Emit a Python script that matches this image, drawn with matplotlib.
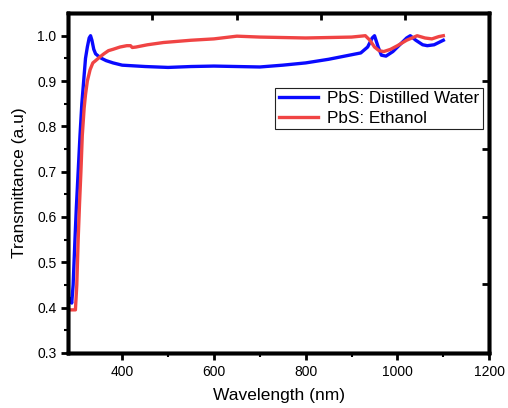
import numpy as np
import matplotlib
matplotlib.use("Agg")
import matplotlib.pyplot as plt

plt.rcParams["font.family"] = ["Liberation Sans", "DejaVu Sans"]

# PbS: Distilled Water
wl_water = [283, 287, 290, 293, 297, 300, 304, 308, 312, 316, 320, 324, 328, 331,
            334, 338, 342, 348, 355, 365, 380, 400, 450, 500, 550, 600, 650, 700,
            750, 800, 850, 900, 920, 935, 945, 950, 958, 965, 975, 990, 1005, 1020,
            1028, 1040, 1055, 1065, 1080, 1090, 1100]
t_water = [0.41, 0.42, 0.41, 0.45, 0.55, 0.62, 0.70, 0.78, 0.85, 0.90, 0.95, 0.975,
           0.995, 1.0, 0.99, 0.97, 0.96, 0.955, 0.95, 0.945, 0.94, 0.935, 0.932,
           0.93, 0.932, 0.933, 0.932, 0.931, 0.935, 0.94, 0.948, 0.958, 0.962, 0.975,
           0.995, 1.0, 0.975, 0.957, 0.955, 0.965, 0.98, 0.995, 1.0, 0.99, 0.98,
           0.978, 0.98, 0.985, 0.99]

# PbS: Ethanol
wl_eth = [283, 290, 298, 301, 304, 307, 310, 313, 317, 320, 324, 330, 336, 342, 350,
          360, 370, 380, 395, 410, 418, 422, 430, 455, 490, 550, 600, 650, 700, 800,
          900, 930, 940, 950, 960, 970, 985, 1000, 1020, 1043, 1060, 1075, 1090, 1100]
t_eth = [0.395, 0.395, 0.395, 0.45, 0.55, 0.63, 0.70, 0.78, 0.84, 0.87, 0.90, 0.925,
         0.94, 0.945, 0.952, 0.96, 0.967, 0.97, 0.975, 0.978, 0.978, 0.974, 0.975,
         0.98, 0.985, 0.99, 0.993, 0.999, 0.997, 0.995, 0.997, 1.0, 0.99, 0.975,
         0.967, 0.965, 0.97, 0.978, 0.99, 1.0, 0.995, 0.993, 0.998, 1.0]

fig = plt.figure(figsize=(5.08, 4.08), dpi=100)
ax = fig.add_axes([0.134, 0.135, 0.829, 0.833])

ax.plot(wl_water, t_water, color="#0a0aff", lw=2.4, label="PbS: Distilled Water")
ax.plot(wl_eth, t_eth, color="#f04444", lw=2.4, label="PbS: Ethanol")

ax.set_xlim(282, 1200)
ax.set_ylim(0.3, 1.05)
ax.set_xticks([400, 600, 800, 1000, 1200])
ax.set_xticks([500, 700, 900, 1100], minor=True)
ax.set_yticks(np.arange(0.3, 1.01, 0.1))
ax.set_yticks(np.arange(0.35, 1.01, 0.1), minor=True)
ax.tick_params(which="major", direction="out", length=5, width=2, labelsize=10)
ax.tick_params(which="minor", direction="out", length=3, width=1.5)

for sp in ax.spines.values():
    sp.set_linewidth(2.5)

# Origin-style opposite axes with their own tick spacing
axt = ax.twiny()
axt.set_xlim(ax.get_xlim())
axt.set_xticks([466, 651, 834, 1017])
axt.set_xticklabels([])
axt.tick_params(direction="in", length=5, width=2)
axr = ax.twinx()
axr.set_ylim(ax.get_ylim())
axr.set_yticks([0.453, 0.60, 0.75, 0.90])
axr.set_yticklabels([])
axr.tick_params(direction="in", length=5, width=2)
for a in (axt, axr):
    for sp in a.spines.values():
        sp.set_linewidth(2.5)

ax.set_xlabel("Wavelength (nm)", fontsize=12.5, labelpad=7)
ax.set_ylabel("Transmittance (a.u)", fontsize=12.5, labelpad=7)

leg = ax.legend(loc="upper right", bbox_to_anchor=(0.985, 0.78), fontsize=12.3,
                frameon=True, fancybox=False, edgecolor="#222222", framealpha=1,
                borderpad=0.2, handlelength=2.3, handletextpad=0.55,
                labelspacing=0.25, borderaxespad=0)
leg.get_frame().set_linewidth(0.8)

fig.savefig("out.png", dpi=100)
